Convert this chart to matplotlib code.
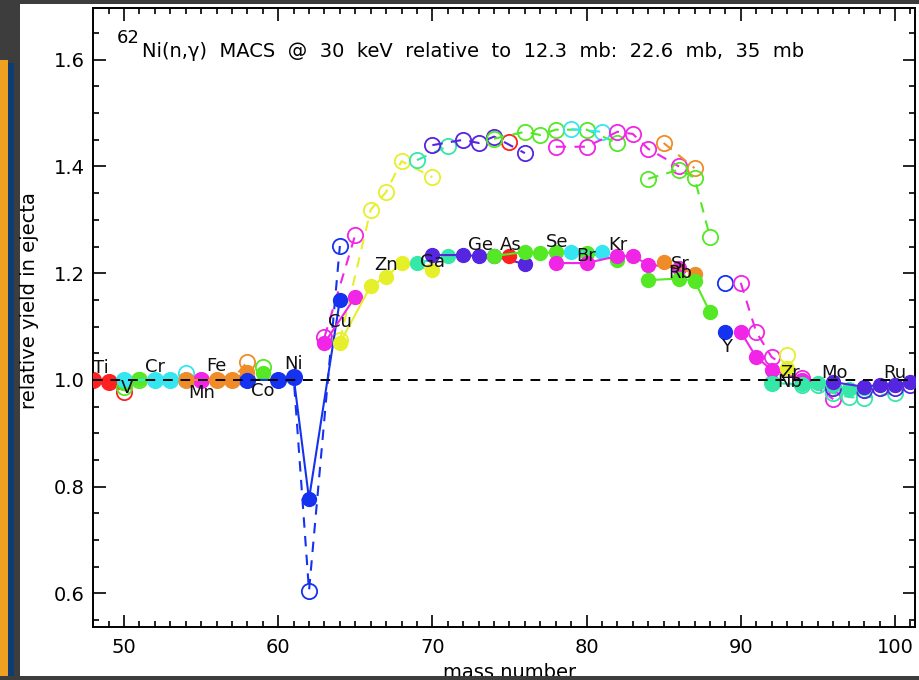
import matplotlib
matplotlib.use("Agg")
import matplotlib.pyplot as plt
from matplotlib.patches import Rectangle
from matplotlib.ticker import MultipleLocator

plt.rcParams['font.family'] = ['DejaVu Sans']

# colours used for the elements (IDL-like palette)
RED = '#ff2020'
ORANGE = '#f08c28'
GREEN = '#55e825'
CYAN = '#35e6f0'
MAGENTA = '#f025e6'
BLUE = '#1432f0'
YELLOW = '#e6f02a'
TEAL = '#35e8a8'
VIOLET = '#5525e0'

# element, colour, mass numbers, yield (22.6 mb, filled), yield (35 mb, open)
elements = ['Ti', 'V', 'Cr', 'Mn', 'Fe', 'Co', 'Ni', 'Cu', 'Zn', 'Ga', 'Ge', 'As',
            'Se', 'Br', 'Kr', 'Rb', 'Sr', 'Y', 'Zr', 'Nb', 'Mo', 'Ru']
colors = [RED, GREEN, CYAN, MAGENTA, ORANGE, GREEN, BLUE, MAGENTA, YELLOW, TEAL, VIOLET, RED,
          GREEN, CYAN, MAGENTA, ORANGE, GREEN, BLUE, MAGENTA, YELLOW, TEAL, VIOLET]
masses = [
    [48, 49, 50],
    [50, 51],
    [50, 52, 53, 54],
    [55],
    [54, 56, 57, 58],
    [59],
    [58, 60, 61, 62, 64],
    [63, 65],
    [64, 66, 67, 68, 70],
    [69, 71],
    [70, 72, 73, 74, 76],
    [75],
    [74, 76, 77, 78, 80, 82],
    [79, 81],
    [78, 80, 82, 83, 84, 86],
    [85, 87],
    [84, 86, 87, 88],
    [89],
    [90, 91, 92, 94, 96],
    [93],
    [92, 94, 95, 96, 97, 98, 100],
    [96, 98, 99, 100, 101, 102],
]
yield_low = [
    [1.0, 0.997, 0.995],
    [0.995, 1.002],
    [1.0, 1.0, 1.0, 1.0],
    [1.0],
    [1.0, 1.0, 1.0, 1.015],
    [1.013],
    [1.0, 1.0, 1.006, 0.777, 1.15],
    [1.069, 1.156],
    [1.069, 1.176, 1.193, 1.219, 1.206],
    [1.219, 1.232],
    [1.234, 1.234, 1.232, 1.232, 1.217],
    [1.232],
    [1.232, 1.24, 1.237, 1.24, 1.238, 1.225],
    [1.24, 1.24],
    [1.219, 1.219, 1.232, 1.232, 1.216, 1.21],
    [1.221, 1.199],
    [1.187, 1.19, 1.186, 1.127],
    [1.09],
    [1.09, 1.043, 1.019, 1.0, 0.99],
    [1.022],
    [0.994, 0.992, 0.994, 0.99, 0.983, 0.985, 0.99],
    [0.996, 0.987, 0.991, 0.991, 0.996, 1.0],
]
yield_high = [
    [1.0, 0.997, 0.978],
    [0.987, 1.0],
    [1.0, 1.0, 1.0, 1.013],
    [1.0],
    [1.0, 1.0, 1.0, 1.034],
    [1.025],
    [1.0, 1.0, 1.006, 0.605, 1.251],
    [1.08, 1.272],
    [1.074, 1.319, 1.352, 1.41, 1.38],
    [1.412, 1.438],
    [1.44, 1.45, 1.444, 1.456, 1.425],
    [1.446],
    [1.452, 1.465, 1.459, 1.469, 1.469, 1.444],
    [1.47, 1.465],
    [1.437, 1.437, 1.465, 1.461, 1.433, 1.40],
    [1.444, 1.397],
    [1.377, 1.394, 1.379, 1.268],
    [1.182],
    [1.182, 1.09, 1.043, 1.004, 0.964],
    [1.047],
    [0.995, 0.99, 0.99, 0.975, 0.968, 0.966, 0.976],
    [0.985, 0.981, 0.985, 0.985, 0.99, 1.0],
]

# element name labels
label_names = ['Ti', 'V', 'Cr', 'Mn', 'Fe', 'Co', 'Ni', 'Cu', 'Zn', 'Ga', 'Ge', 'As',
               'Se', 'Br', 'Kr', 'Sr', 'Rb', 'Y', 'Zr', 'Nb', 'Mo', 'Ru']
label_x = [48.5, 50.2, 52.0, 55.05, 56.0, 59.0, 61.0, 64.0, 67.0, 70.0, 73.1, 75.1,
           78.1, 80.0, 82.0, 86.05, 86.05, 89.1, 93.2, 93.2, 96.1, 100.0]
label_y = [1.022, 0.985, 1.024, 0.976, 1.026, 0.98, 1.03, 1.109, 1.215, 1.221, 1.253, 1.253,
           1.259, 1.232, 1.253, 1.217, 1.2, 1.062, 1.013, 0.996, 1.013, 1.013]

title = 'Ni(n,\u03b3)  MACS  @  30  keV  relative  to  12.3  mb:  22.6  mb,  35  mb'

W, H = 920, 680
fig = plt.figure(figsize=(W / 100, H / 100), dpi=100, facecolor='#3d3d3d')

# slide decoration: white panel, orange and navy bars, dark strip at the bottom
fig.add_artist(Rectangle((20 / W, 4 / H), 900 / W, 672 / H, transform=fig.transFigure,
                         facecolor='white', edgecolor='none', zorder=-5))
fig.add_artist(Rectangle((0, 0), 8 / W, 620 / H, transform=fig.transFigure,
                         facecolor='#f0a020', edgecolor='none', zorder=-4))
fig.add_artist(Rectangle((8 / W, 0), 6 / W, 617 / H, transform=fig.transFigure,
                         facecolor='#0c3c72', edgecolor='none', zorder=-4))
fig.add_artist(Rectangle((0, 0), 1, 4 / H, transform=fig.transFigure,
                         facecolor='#3d3d3d', edgecolor='none', zorder=10))

ax = fig.add_axes([93 / W, 1 - 627 / H, (915 - 93) / W, (627 - 8) / H])
ax.set_facecolor('none')

for name, c, m, lo, hi in zip(elements, colors, masses, yield_low, yield_high):
    ax.plot(m, hi, linestyle=(0, (5, 4)), color=c, lw=1.5, marker='o', ms=11,
            mfc='none', mec=c, mew=1.3, zorder=2)
for name, c, m, lo, hi in zip(elements, colors, masses, yield_low, yield_high):
    ax.plot(m, lo, '-', color=c, lw=1.5, marker='o', ms=10, mfc=c, mec=c, zorder=3)

ax.axhline(1.0, color='black', lw=1.4, linestyle=(0, (5, 4)), zorder=4)

for t, x, y in zip(label_names, label_x, label_y):
    ax.text(x, y, t, ha='center', va='center', fontsize=13, color='#111111', zorder=5)

ax.text(49.55, 1.641, '62', ha='left', va='center', fontsize=13)
ax.text(51.15, 1.615, title, ha='left', va='center', fontsize=14)

ax.set_xlim(47.99, 101.3)
ax.set_ylim(0.537, 1.697)
ax.xaxis.set_major_locator(MultipleLocator(10))
ax.xaxis.set_minor_locator(MultipleLocator(1))
ax.yaxis.set_major_locator(MultipleLocator(0.2))
ax.yaxis.set_minor_locator(MultipleLocator(0.05))
ax.yaxis.set_major_formatter(plt.FuncFormatter(lambda v, p: f'{v:.1f}'))
ax.tick_params(which='both', direction='in', top=True, right=True, width=1.2, labelsize=14)
ax.tick_params(which='major', length=9)
ax.tick_params(which='minor', length=4.5)
ax.tick_params(axis='x', which='major', pad=8)
ax.tick_params(axis='y', which='major', pad=6)
for s in ax.spines.values():
    s.set_linewidth(1.4)

ax.set_xlabel('mass number', fontsize=14)
ax.set_ylabel('relative yield in ejecta', fontsize=14)
ax.xaxis.set_label_coords(0.507, -0.058)
ax.yaxis.set_label_coords(-0.066, 0.527)

fig.savefig('out.png', dpi=100, facecolor=fig.get_facecolor())
